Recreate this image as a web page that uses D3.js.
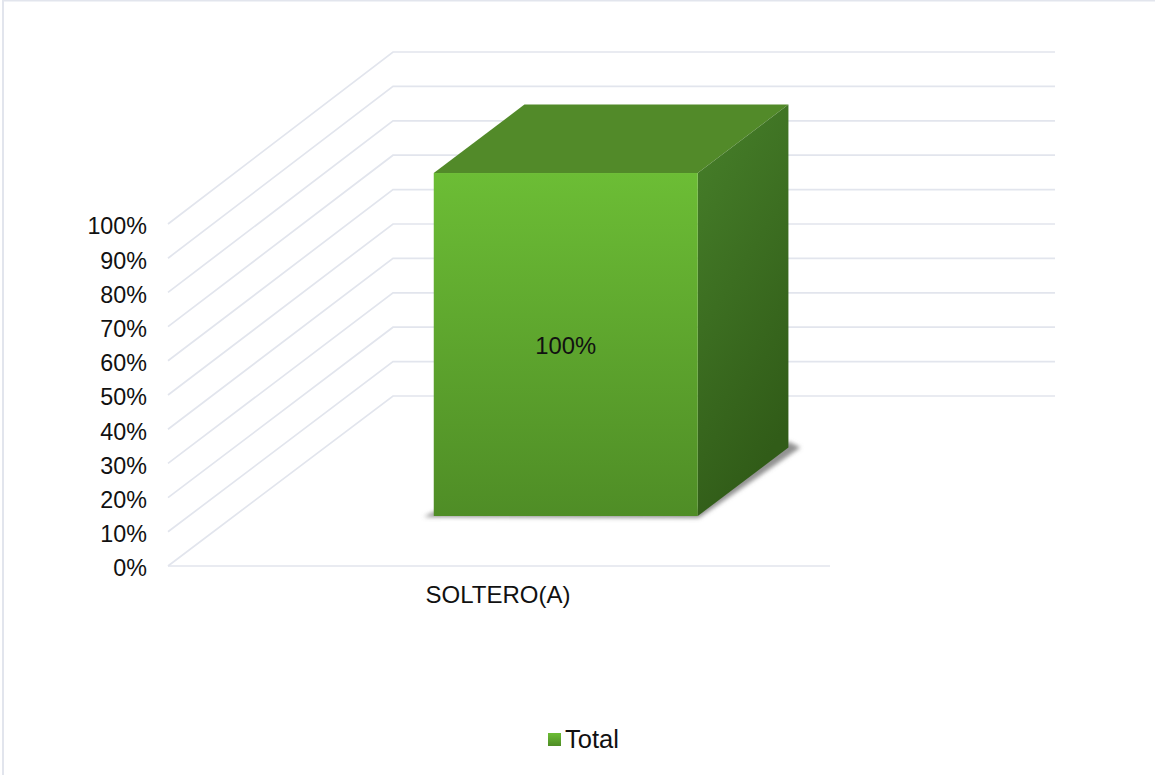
<!DOCTYPE html>
<html><head><meta charset="utf-8">
<script src="https://cdn.jsdelivr.net/npm/d3@7/dist/d3.min.js"></script>
<style>html,body{margin:0;padding:0;background:#fff}svg{display:block}text{font-family:"Liberation Sans",Arial,sans-serif;fill:#111}</style>
</head><body><svg id="c" width="1155" height="775"></svg>
<script>
const categories = ["SOLTERO(A)"];
const values = [1];
const seriesName = "Total";
const tickValues = d3.range(0, 11).map(d => d / 10);

const svg = d3.select("#c");
const y = d3.scaleLinear().domain([0, 1]).range([566, 224]);
const yBack = d3.scaleLinear().domain([0, 1]).range([396, 52]);
const yBar = d3.scaleLinear().domain([0, 1]).range([566, 223]);
const x = d3.scaleBand().domain(categories).range([168, 830]).paddingInner(0.6).paddingOuter(0.3);
const dx = 225, dy = -170;
const fmt = d3.format(".0%");
const grid = "#e2e5ed";
const fs = 23.3;

const defs = svg.append("defs");
const lg = (id, x1, y1, x2, y2, a, b) => {
  const g = defs.append("linearGradient").attr("id", id).attr("x1", x1).attr("y1", y1).attr("x2", x2).attr("y2", y2);
  g.append("stop").attr("offset", "0").attr("stop-color", a);
  g.append("stop").attr("offset", "1").attr("stop-color", b);
};
lg("front", 0, 0, 0, 1, "#6cbd35", "#4f8d26");
lg("side", 0, 0, 0.35, 1, "#47802a", "#315c18");
lg("leg", 0, 0, 0, 1, "#6cbd35", "#4f8d26");
const f = defs.append("filter").attr("id", "blur").attr("x", "-20%").attr("y", "-20%").attr("width", "140%").attr("height", "140%");
f.append("feGaussianBlur").attr("stdDeviation", 2.2);

// outer frame
svg.append("path").attr("d", "M3 775V0.5H1155").attr("fill", "none").attr("stroke", grid).attr("stroke-width", 2);

// walls and floor
const gridG = svg.append("g").attr("fill", "none").attr("stroke", grid).attr("stroke-width", 1.7);
tickValues.forEach(t => {
  gridG.append("path").attr("d", d3.line()([[168, y(t)], [168 + dx, yBack(t)], [830 + dx, yBack(t)]]));
});
gridG.append("line").attr("x1", 168).attr("x2", 830).attr("y1", y(0)).attr("y2", y(0));

// tick labels
svg.append("g").selectAll("text").data(tickValues).join("text")
  .attr("x", 147).attr("y", d => y(d) + 2).attr("dy", "0.36em")
  .attr("text-anchor", "end").attr("font-size", fs).text(fmt);

// bar
const zNear = 0.294, zFar = 0.697;
const bars = svg.append("g").selectAll("g").data(categories).join("g");
bars.each(function (c, i) {
  const g = d3.select(this), v = values[i];
  const x0 = x(c) + zNear * dx + 1, x1 = x0 + x.bandwidth() - 0.8;
  const yb = yBar(0) + zNear * dy, yt = yBar(v) + zNear * dy;
  const bx = (zFar - zNear) * dx, by = (zFar - zNear) * dy;
  const line = d3.line();
  g.append("path").attr("filter", "url(#blur)").attr("fill", "#777").attr("fill-opacity", 0.8)
    .attr("d", line([[x0 - 10, yb + 1], [x1 + 1, yb + 2], [x1 + bx + 12, yb + by + 0], [x1 + bx, yb + by - 6], [x1, yb - 6], [x0, yb - 4]]) + "Z");
  g.append("path").attr("fill", "#528a29")
    .attr("d", line([[x0, yt], [x0 + bx, yt + by], [x1 + bx, yt + by], [x1, yt]]) + "Z");
  g.append("path").attr("fill", "url(#side)")
    .attr("d", line([[x1, yt], [x1 + bx, yt + by], [x1 + bx, yb + by], [x1, yb]]) + "Z");
  g.append("rect").attr("x", x0).attr("y", yt).attr("width", x1 - x0).attr("height", yb - yt).attr("fill", "url(#front)");
  g.append("text").attr("x", (x0 + x1) / 2).attr("y", (yt + yb) / 2 + 1).attr("dy", "0.36em")
    .attr("text-anchor", "middle").attr("font-size", fs + 0.5).text(fmt(v));
});

// category axis
svg.append("g").selectAll("text").data(categories).join("text")
  .attr("x", 498).attr("y", 594).attr("dy", "0.36em")
  .attr("text-anchor", "middle").attr("font-size", 24).text(d => d);

// legend
svg.append("rect").attr("x", 548).attr("y", 733).attr("width", 13).attr("height", 13).attr("fill", "url(#leg)");
svg.append("text").attr("x", 565).attr("y", 739).attr("dy", "0.36em").attr("font-size", 25.5).text(seriesName);
</script></body></html>
